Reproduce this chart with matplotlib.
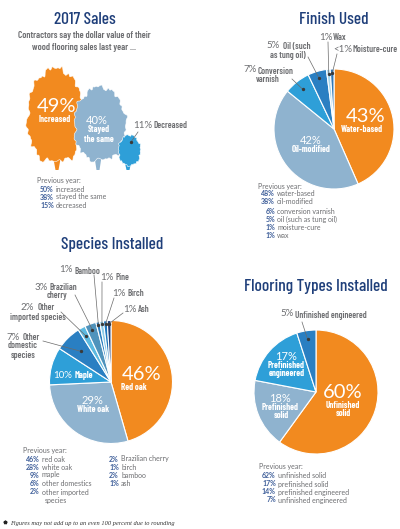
import numpy as np
import matplotlib
matplotlib.use("Agg")
import matplotlib.pyplot as plt
from matplotlib.patches import Polygon

W, H = 400, 529

NAVY = "#1f3f7a"
GREY = "#6d6e71"
ORANGE = "#f28a1f"
STEEL = "#8fb3cf"
SKY = "#2e9fd8"
BLUE = "#2a7fc2"

NARROW = ["Barlow Condensed", "DejaVu Sans"]
BODY = ["Lato", "DejaVu Sans"]

sales_pct = [49, 40, 11]
sales_names = ["Increased", "Stayed\nthe same", "Decreased"]
sales_prev = [("50%", "increased"), ("38%", "stayed the same"), ("15%", "decreased")]

finish_values = [43, 42, 7, 5, 1, 1]
finish_colors = [ORANGE, STEEL, SKY, BLUE, "#a9d8ee", "#2f78b7"]
finish_prev = [("48%", "water-based"), ("38%", "oil-modified"), ("6%", "conversion varnish"),
               ("5%", "oil (such as tung oil)"), ("1%", "moisture-cure"), ("1%", "wax")]

species_values = [46, 29, 10, 7, 2, 3, 1, 1, 1, 1]
species_colors = [ORANGE, STEEL, SKY, BLUE, "#5cb9e0", "#4f93bc",
                  "#2c7fbf", "#8dcce8", "#1f78be", "#1e3f7a"]
species_prev = [("46%", "red oak"), ("28%", "white oak"), ("9%", "maple"),
                ("6%", "other domestics"), ("2%", "other imported")]
species_prev2 = [("2%", "Brazilian cherry"), ("1%", "birch"), ("2%", "bamboo"), ("1%", "ash")]

flooring_values = [60, 18, 17, 5]
flooring_colors = [ORANGE, STEEL, SKY, BLUE]
flooring_prev = [("62%", "unfinished solid"), ("17%", "prefinished solid"),
                 ("14%", "prefinished engineered"), ("7%", "unfinished engineered")]

fig = plt.figure(figsize=(W / 100, H / 100), dpi=100)
ax = fig.add_axes([0, 0, 1, 1], zorder=3)
ax.set_xlim(0, W)
ax.set_ylim(H, 0)
ax.axis("off")
ax.patch.set_alpha(0)


def label(x, y, s, size=6.5, color=GREY, weight="semibold", family=NARROW, ha="center", **kw):
    ax.text(x, y, s, fontsize=size, color=color, fontweight=weight, family=family,
            ha=ha, va="center", **kw)


def pct(x, y, s, size=7, color=GREY):
    label(x, y, s, size=size, color=color, weight="normal", family=BODY, zorder=5)


def inside(x, y, s, size=6.4):
    label(x, y, s, size=size, color="white", weight="bold", zorder=5, linespacing=1.05)


def title(x, y, s):
    label(x, y, s, size=12.5, color=NAVY, weight="medium")


def pie(cx, cy, r, values, colors):
    a = fig.add_axes([(cx - r) / W, 1 - (cy + r) / H, 2 * r / W, 2 * r / H], zorder=1)
    wedges, _ = a.pie(values, colors=colors, startangle=90, counterclock=False, radius=1,
                      wedgeprops={"edgecolor": "white", "linewidth": 0.8})
    a.set_xlim(-1, 1)
    a.set_ylim(-1, 1)
    return wedges


def leader(cx, cy, r, wedge, x0, y0, frac=0.85):
    # thin line from the label to a small dot inside its slice
    t = np.radians((wedge.theta1 + wedge.theta2) / 2)
    x1 = cx + frac * r * np.cos(t)
    y1 = cy - frac * r * np.sin(t)
    ax.plot([x0, x1], [y0, y1], color="#6a6a6a", lw=0.5)
    ax.plot(x1, y1, "o", color="#3a3a3a", ms=1.4)


def previous(x, num_x, y_head, ys, rows):
    if y_head is not None:
        label(x, y_head, "Previous year:", size=5, weight="normal", family=BODY, ha="left")
    for y, (num, name) in zip(ys, rows):
        label(num_x, y, num, size=5, color="#3f5f9a", weight="bold", family=BODY, ha="right")
        label(num_x + 2, y, name, size=5, weight="normal", family=BODY, ha="left")


def tree(left, right, top, bottom, trunk_x, trunk_bottom, color, phase, z):
    # bumpy rounded crown that narrows towards the top, with a flared trunk below it
    t = np.linspace(0, 2 * np.pi, 600)
    bumps = (0.95 + 0.03 * np.sin(7 * t + phase) + 0.03 * np.sin(13 * t + 2 * phase)
             + 0.025 * np.sin(23 * t + 3 * phase) + 0.015 * np.sin(41 * t + phase))
    cx = (left + right) / 2
    cy = (top + bottom) / 2
    taper = 1 - 0.3 * np.clip(-np.sin(t), 0, 1) ** 2
    x = cx + (right - left) / 2 * bumps * taper * np.sign(np.cos(t)) * np.abs(np.cos(t)) ** 0.75
    y = cy + (bottom - top) / 2 * bumps * np.sign(np.sin(t)) * np.abs(np.sin(t)) ** 0.9
    trunk = [(trunk_x - 3.5, bottom - 5), (trunk_x + 3.5, bottom - 5),
             (trunk_x + 1.5, trunk_bottom), (trunk_x - 1.5, trunk_bottom)]
    ax.add_patch(Polygon(trunk, closed=True, facecolor=color, edgecolor="none", zorder=z))
    ax.add_patch(Polygon(np.column_stack([x, y]), closed=True, facecolor=color,
                         edgecolor="white", linewidth=0.4, zorder=z))


# 2017 Sales
title(85, 20, "2017 Sales")
label(84, 36, "Contractors say the dollar value of their", size=6.8)
label(84, 47, "wood flooring sales last year ...", size=6.8)
tree(26, 85, 66, 164, 57, 170, ORANGE, 0.4, 1)
tree(73, 127, 85, 162, 98, 170, STEEL, 1.7, 2)
tree(118, 141, 134, 166, 128, 170, SKY, 2.9, 3)
pct(57, 107, f"{sales_pct[0]}%", 14.5, "white")
inside(55, 119, sales_names[0])
pct(97, 120, f"{sales_pct[1]}%", 8, "white")
inside(99, 134.5, sales_names[1])
pct(143, 125.5, f"{sales_pct[2]}%")
label(170, 126, sales_names[2])
ax.plot([138, 131], [132, 142], color="#6a6a6a", lw=0.5, zorder=5)
ax.plot(131, 142, "o", color="#3a3a3a", ms=1.4, zorder=5)
label(37, 180, "Previous year:", size=5, weight="normal", family=BODY, ha="left")
previous(37, 54, None, [189, 197, 205], sales_prev)

# Finish Used
FX, FY, FR = 334, 129, 60
title(334, 19, "Finish Used")
wf = pie(FX, FY, FR, finish_values, finish_colors)
leader(FX, FY, FR, wf[2], 292, 79, 0.84)
leader(FX, FY, FR, wf[3], 308, 57, 0.88)
leader(FX, FY, FR, wf[4], 328, 42, 0.92)
leader(FX, FY, FR, wf[5], 337, 54, 0.93)
pct(326, 37, "1%")
label(340, 38, "Wax")
pct(343, 50, "<1%")
label(375, 50, "Moisture-cure")
pct(273, 45, "5%")
label(297, 46, "Oil (such")
label(288, 55, "as tung oil)")
pct(250, 70, "7%")
label(276, 71, "Conversion")
label(268, 79, "varnish")
pct(366, 117, "43%", 14.5, "white")
inside(362, 130, "Water-based")
pct(311, 141, "42%", 8, "white")
inside(311, 150, "Oil-modified")
previous(258, 275, 186, [194, 202, 211, 219, 227, 235], finish_prev)

# Species Installed
SX, SY, SR = 111, 382, 61.5
title(112, 245, "Species Installed")
ws = pie(SX, SY, SR, species_values, species_colors)
leader(SX, SY, SR, ws[3], 43, 341, 0.70)
leader(SX, SY, SR, ws[4], 61, 312, 0.85)
leader(SX, SY, SR, ws[5], 75, 295, 0.90)
leader(SX, SY, SR, ws[6], 94, 275, 0.95)
leader(SX, SY, SR, ws[7], 102, 282, 0.95)
leader(SX, SY, SR, ws[8], 114, 298, 0.95)
leader(SX, SY, SR, ws[9], 123, 313, 0.95)
pct(66, 270, "1%")
label(87, 271, "Bamboo")
pct(107, 277, "1%")
label(122, 278, "Pine")
pct(119, 293, "1%")
label(136, 293, "Birch")
pct(130, 309, "1%")
label(144, 309, "Ash")
pct(41, 287, "3%")
label(63, 287, "Brazilian")
label(57, 296, "cherry")
pct(27, 308, "2%")
label(46, 308, "Other")
label(38, 317, "imported species")
pct(13, 337, "7%")
label(31, 338, "Other")
label(23, 346, "domestic")
label(23, 355, "species")
pct(142, 374, "46%", 14.5, "white")
inside(134, 387, "Red oak")
pct(92, 401, "29%", 8, "white")
inside(93, 410, "White oak")
pct(63, 375, "10%", 7, "white")
inside(84, 376, "Maple")
previous(23, 40, 451, [459, 467, 475, 483, 492], species_prev)
label(45, 500, "species", size=5, weight="normal", family=BODY, ha="left")
previous(0, 119, None, [459, 467, 475, 483], species_prev2)

# Flooring Types Installed
LX, LY, LR = 316, 392, 62
title(316, 287, "Flooring Types Installed")
wl = pie(LX, LY, LR, flooring_values, flooring_colors)
leader(LX, LY, LR, wl[3], 302, 322, 0.86)
pct(287, 314, "5%")
label(331, 315, "Unfinished engineered")
pct(286, 357, "17%", 8, "white")
inside(286, 366, "Prefinished")
inside(287, 374, "engineered")
pct(280, 399, "18%", 8, "white")
inside(280, 408, "Prefinished")
inside(281, 416, "solid")
pct(343, 392, "60%", 14.5, "white")
inside(343, 405, "Unfinished")
inside(343, 413, "solid")
previous(259, 276, 467, [476, 484, 492, 500], flooring_prev)

# Footnote
ax.plot(5, 522, "*", color="#222222", ms=2.6)
label(10, 523, "Figures may not add up to an even 100 percent due to rounding", size=4.6,
      color="#333333", weight="normal", family=["Liberation Serif"], ha="left", style="italic")

fig.savefig("out.png", dpi=100)
